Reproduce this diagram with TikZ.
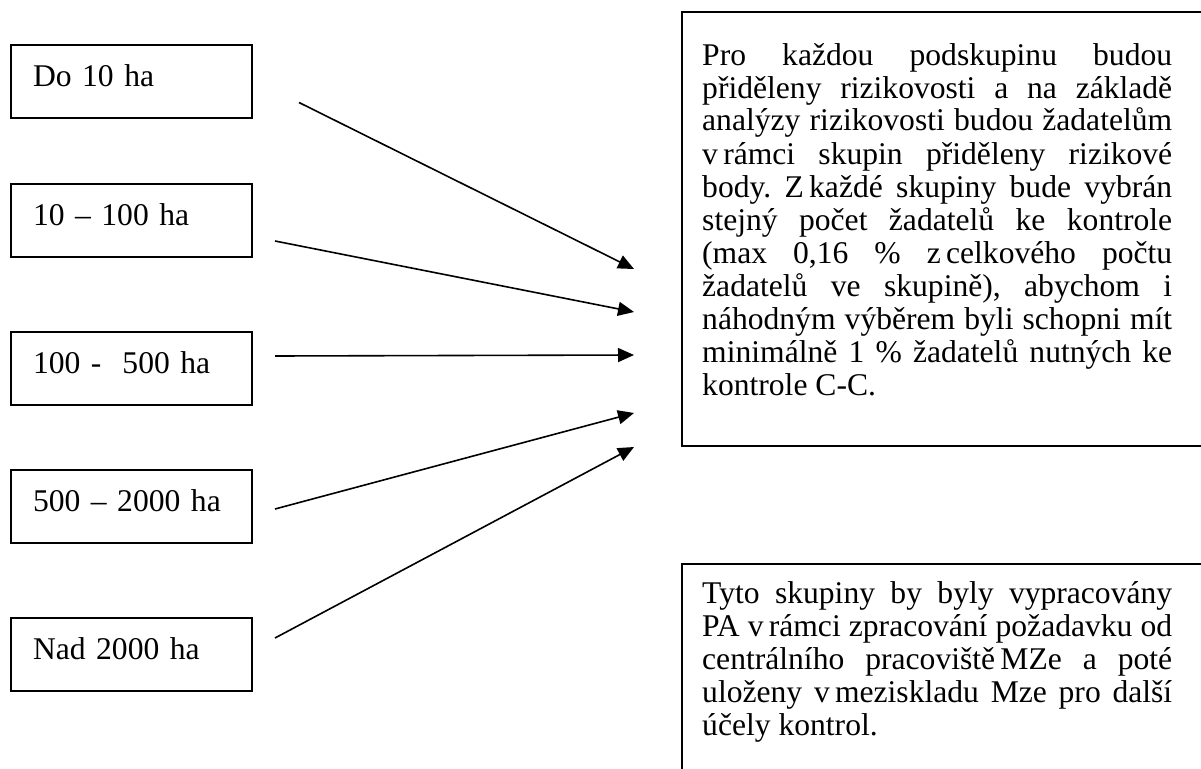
\documentclass[tikz,border=0pt]{standalone}
\usepackage{fontspec}
\setmainfont{Liberation Serif}
\usetikzlibrary{positioning,arrows.meta}
\hyphenpenalty=10000
\exhyphenpenalty=10000
\tolerance=10000
\frenchspacing
\tikzset{
    rangebox/.style={
        draw,
        line width=2pt,
        anchor=north west,
        minimum width=241pt,
        minimum height=73pt,
        text width=197pt,
        inner xsep=22pt,
        inner ysep=10pt,
        text height=31pt,
        text depth=22pt,
        align=left
    },
    infotext/.style={
        anchor=base west,
        inner sep=0pt,
        text width=470pt,
        align=justify
    },
    frame/.style={line width=2pt},
    ptr/.style={
        -{Triangle[length=16pt,width=14pt]},
        line width=1.6pt
    }
}

\begin{document}
\begin{tikzpicture}[x=1pt, y=-1pt, font=\fontsize{31.6}{33}\selectfont]
    \useasboundingbox (0,0) rectangle (1201,768);
    \clip (0,0) rectangle (1201,768);

    % groups by area
    \node[rangebox] (G1) at (10,44) {Do 10 ha};
    \node[rangebox] (G2) at (10,183) {10 – 100 ha};
    \node[rangebox] (G3) at (10,331) {100 -\ \ 500 ha};
    \node[rangebox] (G4) at (10,469) {500 – 2000 ha};
    \node[rangebox] (G5) at (10,617) {Nad 2000 ha};

    % text boxes
    \draw[frame] (682,12) rectangle (1240,446);
    \node[infotext] (Info) at (702,65) {Pro každou podskupinu budou\linebreak
        přiděleny rizikovosti a na základě\linebreak
        analýzy rizikovosti budou žadatelům\linebreak
        v\,rámci skupin přiděleny rizikové\linebreak
        body. Z\,každé skupiny bude vybrán\linebreak
        stejný počet žadatelů ke kontrole\linebreak
        (max 0,16 \% z\,celkového počtu\linebreak
        žadatelů ve skupině), abychom i\linebreak
        náhodným výběrem byli schopni mít\linebreak
        minimálně 1 \% žadatelů nutných ke\linebreak
        kontrole C-C.};

    \draw[frame] (682,564) rectangle (1240,800);
    \node[infotext] (Note) at (702,603) {Tyto skupiny by byly vypracovány\linebreak
        PA v\,rámci zpracování požadavku od\linebreak
        centrálního pracoviště\,MZe a poté\linebreak
        uloženy v\,meziskladu Mze pro další\linebreak
        účely kontrol.};

    % arrow tips
    \coordinate (E1) at (634,269);
    \coordinate (E2) at (634,312);
    \coordinate (E3) at (634,355);
    \coordinate (E4) at (634,413);
    \coordinate (E5) at (634,447);

    \draw[ptr] ([shift={(46,21)}]G1.east) -- (E1);
    \draw[ptr] ([shift={(22,20.5)}]G2.east) -- (E2);
    \draw[ptr] ([shift={(22,-12.5)}]G3.east) -- (E3);
    \draw[ptr] ([shift={(22,2.5)}]G4.east) -- (E4);
    \draw[ptr] ([shift={(22,-16.5)}]G5.east) -- (E5);
\end{tikzpicture}
\end{document}
